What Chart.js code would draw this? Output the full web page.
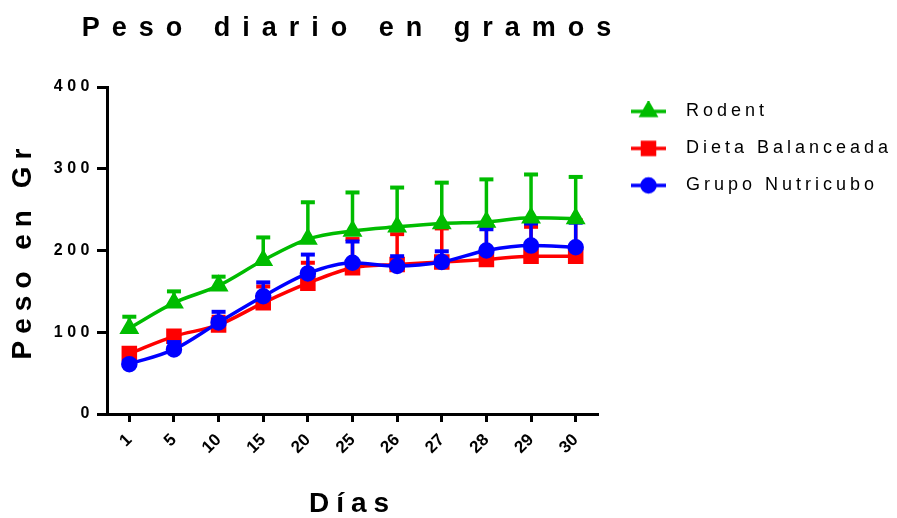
<!DOCTYPE html>
<html>
<head>
<meta charset="utf-8">
<script src="https://cdn.jsdelivr.net/npm/chart.js@4.4.1/dist/chart.umd.min.js"></script>
<style>
    body { margin: 0; background: #fff; }
    #wrap { width: 897px; height: 518px; }
</style>
</head>
<body>
<div id="wrap"><canvas id="pesoChart"></canvas></div>
<script>
// Data
const dias = ['1', '5', '10', '15', '20', '25', '26', '27', '28', '29', '30'];
const rodent = [105, 136, 157, 188, 214, 224, 229, 233, 235, 240, 239];
const rodentErr = [14, 14, 11, 28, 45, 47, 48, 50, 52, 53, 51];
const dieta = [74, 95, 109, 136, 160, 179, 183, 186, 189, 193, 193];
const dietaErr = [5, 5, 10, 20, 25, 35, 37, 41, 40, 36, 44];
const nutricubo = [61, 79, 112, 144, 172, 185, 181, 186, 200, 206, 204];
const nutricuboErr = [4, 9, 13, 17, 23, 26, 12, 13, 26, 27, 30];
const yTicks = [0, 100, 200, 300, 400];

const FONT = '"Liberation Sans", Arial, sans-serif';
const GREEN = '#00BC00';
const RED = '#FF0000';
const BLUE = '#0000FF';
const LEGEND_WIDTH = 299;

// letter spacing per font size (the original uses spaced-out text)
function spacingFor(font) {
    const m = font.match(/(\d+(?:\.\d+)?)px/);
    const size = m ? parseFloat(m[1]) : 0;
    const table = { 27: '12px', 28: '7px', 16: '4.5px', 18: '4px' };
    return table[size] || '0px';
}

function trackText(ctx) {
    const proto = CanvasRenderingContext2D.prototype;
    const desc = Object.getOwnPropertyDescriptor(proto, 'font');
    Object.defineProperty(ctx, 'font', {
        get() { return desc.get.call(this); },
        set(v) {
            desc.set.call(this, v);
            if ('letterSpacing' in this) this.letterSpacing = spacingFor(v);
        }
    });
    // spaced text is wider than Chart.js measures, so don't squeeze it
    ctx.fillText = function (text, x, y) {
        proto.fillText.call(this, text, x, y);
    };
}

// legend glyph: line with marker in the middle
function makeGlyph(color, style, radius) {
    const c = document.createElement('canvas');
    c.width = 60;
    c.height = 20;
    const g = c.getContext('2d');
    g.strokeStyle = color;
    g.fillStyle = color;
    g.lineWidth = 3.5;
    g.beginPath();
    g.moveTo(14, 10);
    g.lineTo(49, 10);
    g.stroke();
    Chart.helpers.drawPoint(g, { pointStyle: style, radius: radius, borderWidth: 1, rotation: 0 }, 31.5, 10);
    return c;
}

// upward error bars, drawn under each dataset's line
const errorBars = {
    id: 'errorBars',
    beforeDatasetDraw(chart, args) {
        const ds = chart.data.datasets[args.index];
        if (!ds.errorBars) return;
        const meta = chart.getDatasetMeta(args.index);
        const y = chart.scales.y;
        const ctx = chart.ctx;
        ctx.save();
        ctx.strokeStyle = ds.borderColor;
        meta.data.forEach((pt, i) => {
            const top = y.getPixelForValue(ds.data[i] + ds.errorBars[i]);
            ctx.lineWidth = 3.5;
            ctx.beginPath();
            ctx.moveTo(pt.x, pt.y);
            ctx.lineTo(pt.x, top);
            ctx.stroke();
            ctx.lineWidth = 4;
            ctx.beginPath();
            ctx.moveTo(pt.x - 7, top);
            ctx.lineTo(pt.x + 7, top);
            ctx.stroke();
        });
        ctx.restore();
    }
};

// keep the legend column a fixed width (spaced text is not measured)
const legendWidth = {
    id: 'legendWidth',
    beforeLayout(chart) {
        const legend = chart.legend;
        if (!legend || legend._fixedWidth) return;
        const fit = legend.fit;
        legend.fit = function () {
            fit.call(this);
            this.width = LEGEND_WIDTH;
        };
        legend._fixedWidth = true;
    }
};

const canvas = document.getElementById('pesoChart');
trackText(canvas.getContext('2d'));

const glyphs = [
    makeGlyph(GREEN, 'triangle', 8),
    makeGlyph(RED, 'rect', 8.5),
    makeGlyph(BLUE, 'circle', 6.5)
];

function series(label, data, err, color, style, radius, order) {
    return {
        label: label,
        data: data,
        errorBars: err,
        borderColor: color,
        backgroundColor: color,
        pointBackgroundColor: color,
        pointBorderColor: color,
        pointStyle: style,
        pointRadius: radius,
        borderWidth: 3.5,
        cubicInterpolationMode: 'monotone',
        order: order
    };
}

new Chart(canvas, {
    type: 'line',
    data: {
        labels: dias,
        datasets: [
            series('Rodent', rodent, rodentErr, GREEN, 'triangle', 8, 0),
            series('Dieta Balanceada', dieta, dietaErr, RED, 'rect', 8.5, 2),
            series('Grupo Nutricubo', nutricubo, nutricuboErr, BLUE, 'circle', 6.5, 1)
        ]
    },
    plugins: [errorBars, legendWidth],
    options: {
        responsive: true,
        maintainAspectRatio: false,
        animation: false,
        plugins: {
            tooltip: { enabled: false },
            title: {
                display: true,
                fullSize: false,
                text: 'Peso diario en gramos',
                color: '#000',
                font: { family: FONT, size: 27, weight: 'bold', lineHeight: 1.2 },
                padding: { top: 12.8, bottom: 41.8 }
            },
            legend: {
                position: 'right',
                align: 'start',
                title: { display: true, text: ' ', font: { size: 12 }, padding: { top: 69, bottom: 0 } },
                labels: {
                    color: '#000',
                    font: { family: FONT, size: 18 },
                    padding: 19,
                    usePointStyle: true,
                    pointStyleWidth: 60,
                    sort: (a, b) => a.datasetIndex - b.datasetIndex,
                    generateLabels(chart) {
                        const items = Chart.defaults.plugins.legend.labels.generateLabels(chart);
                        items.forEach(it => { it.pointStyle = glyphs[it.datasetIndex]; });
                        return items;
                    }
                }
            }
        },
        scales: {
            x: {
                offset: true,
                afterFit: s => { s.height = 104; },
                grid: { offset: false, drawOnChartArea: false, tickLength: 8, tickWidth: 3, tickColor: '#000' },
                border: { display: true, width: 3, color: '#000' },
                ticks: {
                    color: '#000',
                    font: { family: FONT, size: 17, weight: 'bold' },
                    minRotation: 45,
                    maxRotation: 45,
                    padding: 8
                },
                title: {
                    display: true,
                    text: 'Días',
                    color: '#000',
                    font: { family: FONT, size: 28, weight: 'bold', lineHeight: 1 },
                    padding: { top: 0, bottom: 0 }
                }
            },
            y: {
                min: 0,
                max: 400,
                afterFit: s => { s.width = 107; },
                afterBuildTicks: s => { s.ticks = yTicks.map(v => ({ value: v })); },
                grid: { drawOnChartArea: false, tickLength: 10, tickWidth: 3, tickColor: '#000' },
                border: { display: true, width: 3, color: '#000' },
                ticks: {
                    color: '#000',
                    font: { family: FONT, size: 16, weight: 'bold' },
                    padding: 3
                },
                title: {
                    display: true,
                    text: 'Peso en Gr',
                    color: '#000',
                    font: { family: FONT, size: 28, weight: 'bold', lineHeight: 1 },
                    padding: { top: 9, bottom: 0 }
                }
            }
        }
    }
});
</script>
</body>
</html>
